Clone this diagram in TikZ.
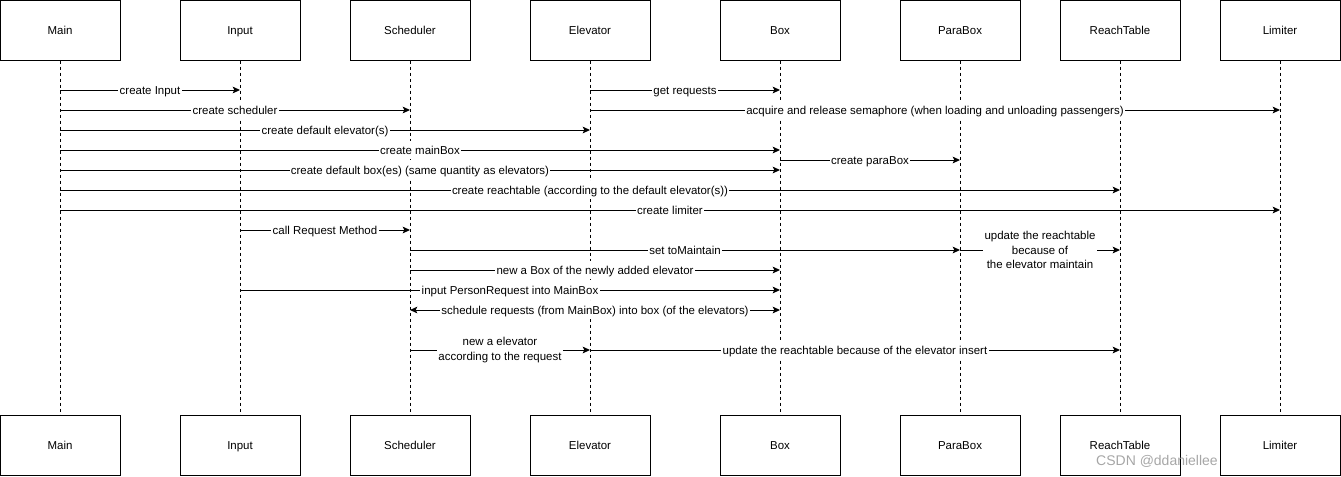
\documentclass[tikz,border=0pt]{standalone}
\usepackage{fontspec}
\setmainfont{Liberation Sans}
\usetikzlibrary{arrows.meta}
\begin{document}
\begin{tikzpicture}[x=0.75pt,y=-0.75pt,
  font=\fontsize{8.6}{10.8}\selectfont,
  lbox/.style={draw,line width=0.75pt,minimum width=90pt,minimum height=45pt,inner sep=0pt,text height=0.92em,text depth=0.2em},
  life/.style={line width=0.75pt,dash pattern=on 2.25pt off 2.25pt},
  msg/.style={line width=0.75pt,-{Stealth[length=5.5pt,width=5pt,inset=1.2pt]}},
  dmsg/.style={line width=0.75pt,{Stealth[length=5.5pt,width=5pt,inset=1.2pt]}-{Stealth[length=5.5pt,width=5pt,inset=1.2pt]}},
  lbl/.style={fill=white,inner sep=1pt,text height=0.92em,text depth=0.2em},
  mlbl/.style={fill=white,inner sep=1pt,align=center}]
\useasboundingbox (0,0) rectangle (1341,476);
% lifeline heads and feet
\foreach \n/\x/\t in {main/60/Main,input/240/Input,sched/410/Scheduler,elev/590/Elevator,box/780/Box,para/960/ParaBox,reach/1120/ReachTable,lim/1280/Limiter}{
  \node[lbox] (\n T) at (\x,30) {\t};
  \node[lbox] (\n B) at (\x,445) {\t};
  \draw[life] (\n T.south) -- (\n B.north);
  \foreach \y in {90,110,130,150,160,170,190,210,230,250,270,290,310,350}{
    \coordinate (\n\y) at (\x,\y);
  }
}
% messages
\draw[msg] (main90) -- node[lbl]{create Input} (input90);
\draw[msg] (elev90) -- node[lbl]{get requests} (box90);
\draw[msg] (main110) -- node[lbl]{create scheduler} (sched110);
\draw[msg] (elev110) -- node[lbl]{acquire and release semaphore (when loading and unloading passengers)} (lim110);
\draw[msg] (main130) -- node[lbl]{create default elevator(s)} (elev130);
\draw[msg] (main150) -- node[lbl]{create mainBox} (box150);
\draw[msg] (box160) -- node[lbl]{create paraBox} (para160);
\draw[msg] (main170) -- node[lbl]{create default box(es) (same quantity as elevators)} (box170);
\draw[msg] (main190) -- node[lbl]{create reachtable (according to the default elevator(s))} (reach190);
\draw[msg] (main210) -- node[lbl]{create limiter} (lim210);
\draw[msg] (input230) -- node[lbl]{call Request Method} (sched230);
\draw[msg] (sched250) -- node[lbl]{set toMaintain} (para250);
\draw[msg] (para250) -- node[mlbl,yshift=0pt]{update the reachtable\\because of\\the elevator maintain} (reach250);
\draw[msg] (sched270) -- node[lbl]{new a Box of the newly added elevator} (box270);
\draw[msg] (input290) -- node[lbl]{input PersonRequest into MainBox} (box290);
\draw[dmsg] (sched310) -- node[lbl]{schedule requests (from MainBox) into box (of the elevators)} (box310);
\draw[msg] (sched350) -- node[mlbl,yshift=0pt]{new a elevator\\according to the request} (elev350);
\draw[msg] (elev350) -- node[lbl]{update the reachtable because of the elevator insert} (reach350);
% watermark
\node[text=black!35,font=\fontsize{10.5}{12}\selectfont,inner sep=0pt] (wm) at (1157,461) {CSDN @ddaniellee};
\end{tikzpicture}
\end{document}
